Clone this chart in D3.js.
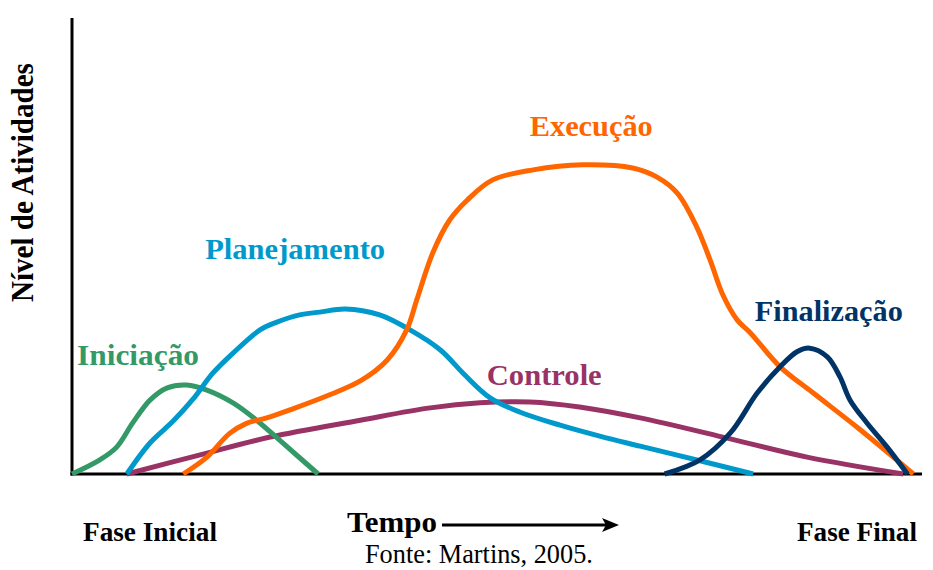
<!DOCTYPE html>
<html><head><meta charset="utf-8">
<script src="https://cdn.jsdelivr.net/npm/d3@7"></script>
<style>body{margin:0;background:#fff}svg{display:block}</style>
</head><body>
<script>
// Time (0..100) vs activity level (0..100)
const iniciacao = [[0,0],[3.3,3.1],[5.3,5.9],[7.2,11.2],[9.25,16.2],[11.3,18.9],[13.6,19.5],[16,18.4],[19.1,15.6],[21.9,11.8],[25,6.8],[29.2,0]];
const planejamento = [[6.5,0],[9.25,6.8],[12,11.6],[14.35,16.4],[16.7,22.1],[19.1,26.5],[22.3,31.6],[24.3,33.3],[27,34.9],[29.4,35.5],[32.4,36.2],[36.5,34.9],[40.1,31.6],[43.7,27.2],[46.6,21.7],[49.6,16.7],[53.1,13.6],[57.9,10.7],[62.6,8.3],[67.4,6.1],[74.5,2.9],[80.8,0]];
const execucao = [[13.2,0],[16,3.7],[18.7,8.9],[20.7,11.1],[23.1,12.3],[26.2,14.3],[30.2,17.1],[34.2,20.4],[37.4,25],[39.7,31.6],[40.9,38.2],[42.8,48.5],[44.8,55.7],[46.9,60.1],[49.9,64.5],[54.7,66.7],[60.6,67.8],[66.5,67.1],[69.4,65.1],[71.8,61.6],[74.1,54.2],[75.7,46.9],[77.2,39.3],[78.9,33.8],[80.4,31.1],[84,23.5],[87.9,17.8],[93.1,10.3],[99.8,0]];
const controle = [[6.5,0],[15.2,4.2],[23.5,8.1],[34.2,11.8],[42.5,14.5],[48.4,15.6],[54.3,15.8],[60.2,14.7],[67.4,12.3],[77.2,8.1],[87.2,3.7],[98.6,0]];
const finalizacao = [[70.3,0],[74.5,3.1],[78.1,9],[81.3,17.8],[84,23.5],[86,26.8],[87.5,27.6],[89.6,25.7],[91.1,21.3],[92.3,16.2],[94.3,11.2],[96.7,5.9],[99.1,0]];
const seriesNames = ["Iniciação","Planejamento","Execução","Controle","Finalização"];
const seriesData = [iniciacao, planejamento, execucao, controle, finalizacao];
const seriesColors = ["#339966","#0099cc","#ff6600","#993366","#003366"];
// label anchor (left, baseline) positions in data units
const labelPos = [[0.6,23.9],[15.8,47.1],[54.3,74.1],[49.2,19.5],[81.0,33.6]];
const labelWidths = [122,180,123,115,148];
const yTitle = "Nível de Atividades";
const xStart = "Fase Inicial", xEnd = "Fase Final", xTitle = "Tempo";
const source = "Fonte: Martins, 2005.";

const FONT = '"Times New Roman", "Liberation Serif", serif';
const W = 933, H = 570;
const svg = d3.select("body").append("svg").attr("width", W).attr("height", H);
const x = d3.scaleLinear().domain([0,100]).range([72,915]);
const y = d3.scaleLinear().domain([0,100]).range([474,18]);

// text fitted to a box: base 20px font scaled to given width and cap height
function fitText(str, px, base, width, cap, bold, fill, rot) {
  const t = svg.append("text").style("font-family",FONT).style("font-size","20px")
    .style("font-weight", bold ? "bold" : "normal").attr("fill", fill || "#000").text(str);
  const w = t.node().getComputedTextLength();
  const sx = width / w, sy = cap / (0.655 * 20);
  t.attr("transform", `translate(${px},${base})${rot ? " rotate(-90)" : ""} scale(${sx},${sy})`);
  return t;
}

const line = d3.line().x(d=>x(d[0])).y(d=>y(d[1])).curve(d3.curveCatmullRom.alpha(0.5));

// axes
svg.append("line").attr("x1",x(0)).attr("x2",x(0)).attr("y1",y(100)).attr("y2",y(0)+1.5).attr("stroke","#000").attr("stroke-width",3);
svg.append("line").attr("x1",x(0)-1.5).attr("x2",922).attr("y1",y(0)).attr("y2",y(0)).attr("stroke","#000").attr("stroke-width",3);

const order = [3,0,1,2,4];
order.forEach(i=>{
  svg.append("path").attr("d", line(seriesData[i])).attr("fill","none")
    .attr("stroke", seriesColors[i]).attr("stroke-width",5).attr("stroke-linejoin","round");
});
seriesNames.forEach((n,i)=>{
  fitText(n, x(labelPos[i][0]), y(labelPos[i][1]), labelWidths[i], 19.5, true, seriesColors[i]);
});

// y title (rotated)
fitText(yTitle, 33, 302, 239, 20.5, true, "#000", true);

// bottom labels
fitText(xStart, 83, 541, 134, 18, true);
fitText(xEnd, 797, 541, 120, 18, true);
fitText(xTitle, 347, 532, 90, 19, true);
svg.append("line").attr("x1",442).attr("x2",608).attr("y1",525).attr("y2",525).attr("stroke","#000").attr("stroke-width",3);
svg.append("path").attr("d","M602,518 L619,525 L602,532 L606,525 Z").attr("fill","#000");

fitText(source, 365, 563, 228, 18.5, false);
</script>
</body></html>
